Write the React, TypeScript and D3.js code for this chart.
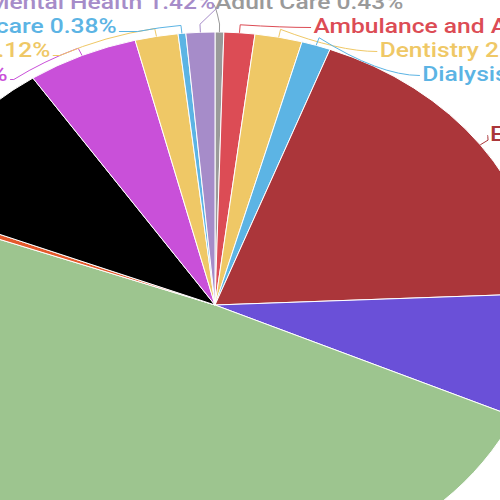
import React from 'react';
import * as d3 from 'd3';

// slice data, clockwise from 12 o'clock
const categories = [
  'Adult Care',
  'Ambulance and Accident',
  'Dentistry',
  'Dialysis',
  'Emergency Care',
  'General Practice',
  'Hospital Services',
  'Immunisation',
  'Intensive Care',
  'Laboratory Tests',
  'Long-term Care',
  'Maternity care',
  'Mental Health'
];
const values = [0.43, 1.52, 2.33, 1.43, 18.62, 7.37, 48.88, 0.39, 9.65, 5.46, 2.12, 0.38, 1.42];
const colors = ['#9a9a9a', '#dc4c55', '#efc866', '#5cb4e4', '#ab363a', '#6a50d8', '#9dc58f', '#e4592b', '#000000', '#c950d9', '#efc866', '#5cb4e4', '#a68cc9'];

const W = 500;
const H = 500;
const stretch = 1.2; // the chart is drawn wider than tall
const cx = 215 / stretch;
const cy = 305;
const radius = 273;
const tickR = radius + 8;
const labelRy = 291;
const labelRx = 283;
const lineH = 24;
const labelTop = 2.5;

type Lab = { i: number; mid: number; side: number; natural: number; y: number };

// push overlapping labels apart, centering each cluster on its natural positions
function distribute(items: Lab[]) {
  items.sort((a, b) => a.natural - b.natural);
  let groups = items.map(d => ({ members: [d], top: d.natural }));
  const place = (g: { members: Lab[]; top: number }) => {
    g.top = d3.mean(g.members, (m, k) => m.natural - k * lineH) || 0;
  };
  let merged = true;
  while (merged) {
    merged = false;
    groups.forEach(place);
    if (groups.length) groups[0].top = Math.max(groups[0].top, labelTop);
    for (let k = 0; k < groups.length - 1; k++) {
      const g = groups[k];
      if (g.top + g.members.length * lineH > groups[k + 1].top) {
        g.members = g.members.concat(groups[k + 1].members);
        groups.splice(k + 1, 1);
        merged = true;
        break;
      }
    }
  }
  groups.forEach(g => g.members.forEach((m, k) => (m.y = g.top + k * lineH)));
}

const pt = (ang: number, r: number) => [cx + r * Math.sin(ang), cy - r * Math.cos(ang)];

// connector: short radial tick, then (left side) along the rim, then into the label
function connector(l: Lab, ax: number, ay: number) {
  const edge = pt(l.mid, radius);
  const tick = pt(l.mid, tickR);
  let d = `M${edge[0]},${edge[1]}L${tick[0]},${tick[1]}`;
  if (l.side === -1) {
    const c = (cy - ay) / tickR;
    if (c < 1) {
      const target = 2 * Math.PI - Math.acos(c);
      if (target < l.mid) {
        const p = pt(target, tickR);
        d += `A${tickR},${tickR} 0 0 0 ${p[0]},${p[1]}`;
      }
    }
    return d + `L${ax},${ay}`;
  }
  const ctrlX = ax + (tick[0] - ax) * 0.4;
  return d + `Q${ctrlX},${ay} ${ax},${ay}`;
}

const App: React.FC = () => {
  const total = d3.sum(values);
  const arcs = d3.pie<number>().sort(null).startAngle(0).endAngle(2 * Math.PI)(values);
  const arcGen = d3.arc<d3.PieArcDatum<number>>().innerRadius(0).outerRadius(radius);

  const labs: Lab[] = arcs.map((a, i) => {
    const mid = (a.startAngle + a.endAngle) / 2;
    return { i, mid, side: mid < Math.PI ? 1 : -1, natural: cy - labelRy * Math.cos(mid), y: 0 };
  });
  distribute(labs.filter(l => l.side === 1));
  distribute(labs.filter(l => l.side === -1));
  labs.sort((a, b) => a.i - b.i);

  return (
    <svg width={W} height={H} style={{ position: 'absolute', left: 0, top: 0, background: '#fff' }}>
      <g transform={`scale(${stretch},1)`}>
        <g transform={`translate(${cx},${cy})`}>
          {arcs.map((a, i) => (
            <path key={i} d={arcGen(a) || ''} fill={colors[i]} stroke="#fff" strokeWidth={1} vectorEffect="non-scaling-stroke" />
          ))}
        </g>
        {labs.map(l => {
          const dy = l.y - cy;
          const off = Math.abs(dy) >= labelRy ? 0 : labelRx * Math.sqrt(1 - (dy / labelRy) ** 2);
          const tx = cx + l.side * off;
          const ax = tx - l.side * 2;
          const ay = l.y + (l.side === -1 ? 5 : 1);
          const pct = ((values[l.i] / total) * 100).toFixed(2);
          return (
            <g key={l.i}>
              <path d={connector(l, ax, ay)} fill="none" stroke={colors[l.i]} strokeWidth={1} vectorEffect="non-scaling-stroke" />
              <text
                x={tx}
                y={l.y + 6.5}
                textAnchor={l.side === 1 ? 'start' : 'end'}
                fill={colors[l.i]}
                style={{ fontFamily: 'Roboto, sans-serif', fontWeight: 500, fontSize: 20.5 }}
              >
                {`${categories[l.i]} ${pct}%`}
              </text>
            </g>
          );
        })}
      </g>
    </svg>
  );
};

export default App;
